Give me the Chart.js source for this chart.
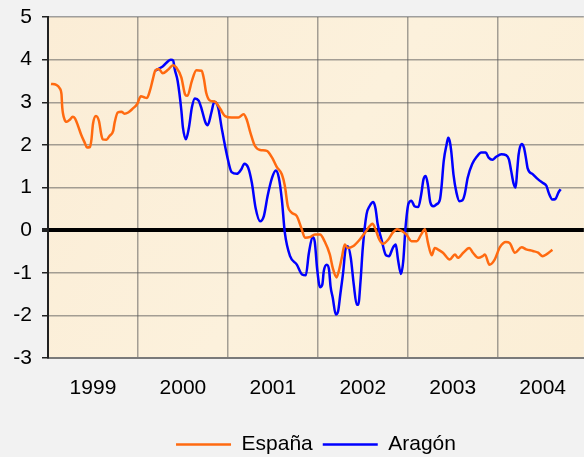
<!DOCTYPE html>
<html>
<head>
<meta charset="utf-8">
<script src="https://cdn.jsdelivr.net/npm/chart.js@4/dist/chart.umd.min.js"></script>
<style>
  html, body { margin: 0; padding: 0; background: #f2f2f2; }
  #wrap { width: 584px; height: 457px; }
</style>
</head>
<body>
<div id="wrap"><canvas id="chart-paro"></canvas></div>
<script>
// months since Jan 1999
const espanaMonths = [0.4, 1.1, 1.55, 1.8, 1.9, 2.2, 2.5, 2.9, 3.3, 3.6, 4.0, 4.4, 4.9, 5.2, 5.6, 5.8, 6.0, 6.4, 6.8, 7.1,
  7.3, 7.8, 8.2, 8.7, 8.9, 9.3, 9.8, 10.2, 10.7, 11.3, 11.9, 12.4, 12.9, 13.2, 13.6, 14.0, 14.3, 14.8, 15.3, 16.0,
  16.7, 17.1, 17.8, 18.3, 18.6, 19.2, 19.8, 20.5, 20.8, 21.1, 21.6, 22.3, 23.0, 23.6, 24.5, 25.4, 26.1, 26.5, 27.0, 27.6,
  28.3, 29.2, 29.9, 30.5, 31.2, 31.6, 32.0, 32.5, 33.2, 33.8, 34.3, 35.0, 35.6, 36.3, 36.9, 37.6, 38.0, 38.5, 38.8, 39.2,
  39.6, 40.0, 40.7, 41.6, 42.3, 42.9, 43.3, 43.7, 44.2, 44.7, 45.4, 46.0, 46.6, 47.2, 47.8, 48.5, 49.2, 49.8, 50.3, 50.7,
  51.2, 51.6, 52.0, 52.7, 53.6, 54.3, 54.7, 55.4, 56.2, 56.7, 57.4, 58.0, 58.3, 58.9, 59.6, 60.3, 61.1, 61.6, 62.3, 63.2,
  63.8, 64.7, 65.4, 66.0, 66.5, 67.3];
const espanaValues = [3.43, 3.41, 3.33, 3.19, 2.88, 2.6, 2.54, 2.59, 2.66, 2.62, 2.45, 2.25, 2.05, 1.94, 1.95, 2.13, 2.49, 2.68, 2.56, 2.25,
  2.13, 2.12, 2.21, 2.33, 2.53, 2.76, 2.78, 2.73, 2.76, 2.85, 2.96, 3.14, 3.11, 3.1, 3.27, 3.55, 3.74, 3.78, 3.68, 3.76,
  3.87, 3.82, 3.58, 3.18, 3.15, 3.5, 3.75, 3.74, 3.55, 3.23, 3.04, 3.01, 2.84, 2.68, 2.64, 2.64, 2.72, 2.6, 2.29, 1.98,
  1.88, 1.86, 1.7, 1.49, 1.31, 1.04, 0.56, 0.41, 0.33, 0.05, -0.18, -0.16, -0.1, -0.1, -0.26, -0.57, -0.89, -1.11, -0.96, -0.65,
  -0.34, -0.42, -0.38, -0.22, -0.06, 0.09, 0.15, 0.02, -0.22, -0.32, -0.22, -0.06, 0.02, -0.02, -0.1, -0.26, -0.26, -0.1, 0.02, -0.3,
  -0.59, -0.42, -0.45, -0.53, -0.69, -0.57, -0.65, -0.53, -0.42, -0.53, -0.65, -0.61, -0.57, -0.81, -0.69, -0.4, -0.28, -0.3, -0.53, -0.4,
  -0.45, -0.49, -0.53, -0.61, -0.57, -0.46];

const aragonMonths = [14.3, 15.3, 16.4, 16.7, 16.9, 17.3, 17.8, 18.0, 18.4, 18.8, 19.2, 19.6, 20.1, 20.5, 21.0, 21.3, 21.8, 22.2, 22.7, 23.2,
  23.9, 24.5, 25.2, 25.8, 26.2, 26.7, 27.2, 27.7, 28.3, 28.8, 29.3, 29.9, 30.4, 30.8, 31.2, 31.6, 32.3, 33.2, 33.9, 34.4,
  34.8, 35.3, 35.6, 35.9, 36.3, 36.6, 36.8, 37.2, 37.5, 37.7, 38.0, 38.4, 38.7, 39.0, 39.4, 39.7, 40.0, 40.4, 40.8, 41.2,
  41.4, 41.7, 42.0, 42.5, 42.9, 43.4, 43.7, 44.0, 44.5, 45.1, 45.5, 46.0, 46.4, 46.7, 47.1, 47.4, 47.7, 48.1, 48.5, 48.9,
  49.4, 49.8, 50.1, 50.4, 50.7, 51.0, 51.4, 51.8, 52.3, 52.5, 52.8, 53.2, 53.4, 53.6, 53.8, 54.1, 54.5, 54.9, 55.3, 55.6,
  56.0, 56.6, 57.2, 57.8, 58.4, 58.8, 59.3, 59.8, 60.5, 61.1, 61.5, 61.8, 62.1, 62.4, 62.6, 62.8, 63.2, 63.5, 63.8, 64.0,
  64.7, 65.4, 66.0, 66.5, 66.8, 67.3, 67.7, 68.1, 68.4];
const aragonValues = [3.74, 3.84, 4.0, 3.98, 3.78, 3.5, 2.8, 2.41, 2.13, 2.4, 2.88, 3.09, 3.04, 2.84, 2.53, 2.46, 2.76, 3.01, 2.88, 2.37,
  1.74, 1.36, 1.32, 1.43, 1.56, 1.47, 1.11, 0.52, 0.21, 0.33, 0.8, 1.23, 1.4, 1.23, 0.72, -0.06, -0.61, -0.81, -1.04, -1.06,
  -0.55, -0.16, -0.28, -0.89, -1.34, -1.28, -0.96, -0.81, -0.93, -1.32, -1.59, -1.98, -1.91, -1.51, -0.96, -0.45, -0.38, -0.65, -1.28, -1.75,
  -1.75, -1.2, -0.42, 0.37, 0.56, 0.66, 0.51, 0.13, -0.22, -0.59, -0.61, -0.42, -0.34, -0.69, -1.03, -0.73, 0.05, 0.62, 0.69, 0.56,
  0.54, 0.84, 1.19, 1.27, 1.05, 0.66, 0.56, 0.6, 0.72, 1.0, 1.62, 2.02, 2.17, 2.09, 1.86, 1.31, 0.88, 0.68, 0.7, 0.84,
  1.23, 1.55, 1.72, 1.82, 1.82, 1.7, 1.65, 1.72, 1.78, 1.76, 1.66, 1.39, 1.11, 1.0, 1.39, 1.78, 2.02, 1.94, 1.66, 1.45,
  1.31, 1.19, 1.11, 1.04, 0.88, 0.72, 0.73, 0.88, 0.96];

const yearLabels = ['1999', '2000', '2001', '2002', '2003', '2004'];

const toPoints = (months, values) => months.map((m, i) => ({ x: m, y: values[i] }));

const gridGray = 'rgba(90, 90, 90, 0.55)';
const fontFamily = '"Liberation Sans", Arial, sans-serif';

const plotBackground = {
  id: 'plotBackground',
  beforeDraw: (chart) => {
    const { ctx, chartArea } = chart;
    ctx.save();
    ctx.fillStyle = '#f2f2f2';
    ctx.fillRect(0, 0, chart.width, chart.height);
    const grad = ctx.createLinearGradient(chartArea.left, chartArea.top, chartArea.right, chartArea.bottom);
    grad.addColorStop(0, '#fbedd6');
    grad.addColorStop(0.5, '#fcf1dc');
    grad.addColorStop(1, '#fbeed6');
    ctx.fillStyle = grad;
    ctx.fillRect(chartArea.left, chartArea.top, chartArea.right - chartArea.left, chartArea.bottom - chartArea.top);
    ctx.restore();
  },
};

// centre the legend under the plot area and push it a bit lower
const legendShift = {
  id: 'legendShift',
  afterLayout: (chart) => {
    const legend = chart.legend;
    if (legend) {
      const shift = chart.chartArea.left / 2;
      legend.left += shift;
      legend.right += shift;
      legend.top += 8;
      legend.bottom += 8;
    }
  },
};

const context = document.getElementById('chart-paro');

new Chart(context, {
  type: 'line',
  data: {
    datasets: [
      {
        label: 'España',
        data: toPoints(espanaMonths, espanaValues),
        borderColor: '#ff6a10',
        backgroundColor: '#ff6a10',
        borderWidth: 2.5,
        pointRadius: 0,
        fill: false,
        cubicInterpolationMode: 'monotone',
      },
      {
        label: 'Aragón',
        data: toPoints(aragonMonths, aragonValues),
        borderColor: '#0000ff',
        backgroundColor: '#0000ff',
        borderWidth: 2.5,
        pointRadius: 0,
        fill: false,
        cubicInterpolationMode: 'monotone',
      },
    ],
  },
  options: {
    responsive: true,
    maintainAspectRatio: false,
    animation: false,
    layout: {
      padding: { top: 17, right: 0, left: 0, bottom: 0 },
    },
    plugins: {
      legend: {
        display: true,
        position: 'bottom',
        labels: {
          usePointStyle: true,
          pointStyle: 'line',
          pointStyleWidth: 55,
          color: '#000',
          padding: 10,
          font: { family: fontFamily, size: 21 },
        },
      },
      tooltip: { enabled: false },
    },
    scales: {
      x: {
        type: 'linear',
        min: 0,
        max: 71.5,
        afterBuildTicks: (axis) => {
          axis.ticks = [0, 6, 12, 18, 24, 30, 36, 42, 48, 54, 60, 66].map((v) => ({ value: v }));
        },
        afterFit: (axis) => {
          axis.height = 58;
        },
        border: { color: '#7a7a7a', width: 2 },
        grid: {
          drawTicks: false,
          lineWidth: 1.5,
          color: (ctx) => (ctx.tick && ctx.tick.value % 12 === 0 && ctx.tick.value > 0 ? gridGray : 'transparent'),
        },
        ticks: {
          autoSkip: false,
          maxRotation: 0,
          padding: 18,
          color: '#000',
          font: { family: fontFamily, size: 21 },
          callback: (value) => (value % 12 === 6 ? yearLabels[(value - 6) / 12] : ''),
        },
      },
      y: {
        min: -3,
        max: 5,
        afterFit: (axis) => {
          axis.width = 48;
          axis.paddingTop = 0;
          axis.paddingBottom = 0;
        },
        border: { color: '#222', width: 2 },
        grid: {
          tickLength: 6,
          tickColor: '#222',
          lineWidth: (ctx) => (ctx.tick && ctx.tick.value === 0 ? 4 : 1.5),
          color: (ctx) => (ctx.tick && ctx.tick.value === 0 ? '#000' : gridGray),
        },
        ticks: {
          stepSize: 1,
          padding: 10,
          color: '#000',
          font: { family: fontFamily, size: 21 },
        },
      },
    },
  },
  plugins: [plotBackground, legendShift],
});
</script>
</body>
</html>
